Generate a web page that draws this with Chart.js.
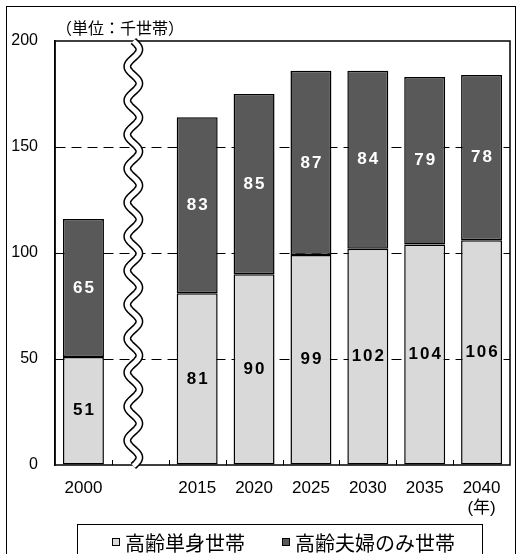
<!DOCTYPE html>
<html>
<head>
<meta charset="utf-8">
<script src="https://cdn.jsdelivr.net/npm/chart.js@4"></script>
<style>
  body { margin: 0; background: #fff; }
  #wrap { width: 517px; height: 554px; position: relative; }
</style>
</head>
<body>
<div id="wrap"><canvas id="householdChart"></canvas></div>
<script>
// 高齢世帯数の推移 (単位：千世帯)
const years = ['2000', '', '2015', '2020', '2025', '2030', '2035', ['2040', '(年)']];
const singleHouseholds = [51, null, 81, 90, 99, 102, 104, 106];
const coupleHouseholds = [65, null, 83, 85, 87, 84, 79, 78];
const yTicks = [0, 50, 100, 150, 200];
const seriesNames = ['高齢単身世帯', '高齢夫婦のみ世帯'];
const seriesColors = ['#d9d9d9', '#595959'];
const breakIndex = 1; // 波線を描くカテゴリ

const numFont = '"Liberation Sans", "Noto Sans CJK JP", sans-serif';
const jpFont = '"Noto Sans CJK JP", sans-serif';

// 棒の中の数値
const valueLabels = {
    id: 'valueLabels',
    afterDatasetsDraw(chart) {
        const ctx = chart.ctx;
        ctx.save();
        ctx.font = 'bold 17px ' + numFont;
        ctx.letterSpacing = '2px';
        ctx.textAlign = 'center';
        ctx.textBaseline = 'middle';
        chart.data.datasets.forEach((ds, i) => {
            const meta = chart.getDatasetMeta(i);
            ctx.fillStyle = i === 0 ? '#000' : '#fff';
            meta.data.forEach((bar, j) => {
                const v = ds.data[j];
                if (v == null) return;
                ctx.fillText(String(v), bar.x + 1, (bar.y + bar.base) / 2);
            });
        });
        ctx.restore();
    }
};

// 枠線・目盛り・波線・単位・凡例
const decorations = {
    id: 'decorations',
    afterDraw(chart) {
        const ctx = chart.ctx;
        const area = chart.chartArea;
        const x = chart.scales.x;
        const y = chart.scales.y;
        ctx.save();

        // 外枠
        ctx.strokeStyle = '#000';
        ctx.lineWidth = 1;
        ctx.strokeRect(6.5, 6.5, chart.width - 8, chart.height + 10);

        // プロット枠
        ctx.lineWidth = 1.5;
        ctx.strokeRect(area.left, area.top, area.right - area.left, area.bottom - area.top);

        // 内向きの目盛り
        ctx.lineWidth = 1;
        const step = x.getPixelForValue(1) - x.getPixelForValue(0);
        for (let i = 1; i < years.length; i++) {
            const px = Math.round(x.getPixelForValue(i) - step / 2) + 0.5;
            ctx.beginPath();
            ctx.moveTo(px, area.bottom);
            ctx.lineTo(px, area.bottom - 5);
            ctx.stroke();
        }
        yTicks.slice(1, -1).forEach(v => {
            const py = Math.round(y.getPixelForValue(v)) + 0.5;
            ctx.beginPath();
            ctx.moveTo(area.left, py);
            ctx.lineTo(area.left + 6, py);
            ctx.stroke();
        });

        // 波線 (省略記号)
        const cx = x.getPixelForValue(breakIndex) - 7;
        const amp = 6, period = 34;
        ctx.beginPath();
        for (let py = area.top; py <= area.bottom + 1; py += 1) {
            const px = cx + amp * Math.sin((py - area.top) / period * 2 * Math.PI);
            if (py === area.top) ctx.moveTo(px, py); else ctx.lineTo(px, py);
        }
        ctx.lineCap = 'butt';
        ctx.strokeStyle = '#000';
        ctx.lineWidth = 8;
        ctx.stroke();
        ctx.strokeStyle = '#fff';
        ctx.lineWidth = 5;
        ctx.stroke();

        // 単位
        ctx.fillStyle = '#000';
        ctx.font = '16px ' + jpFont;
        ctx.textAlign = 'left';
        ctx.textBaseline = 'middle';
        ctx.fillText('（単位：千世帯）', area.left + 1, area.top - 13);

        // 凡例
        ctx.strokeStyle = '#000';
        ctx.lineWidth = 1;
        ctx.strokeRect(77.5, 524.5, 405, 40);
        const items = [{ x: 112 }, { x: 282 }];
        ctx.font = '20px ' + jpFont;
        ctx.textBaseline = 'middle';
        items.forEach((it, i) => {
            ctx.fillStyle = seriesColors[i];
            ctx.fillRect(it.x + 0.5, 538.5, 7, 7);
            ctx.strokeStyle = '#000';
            ctx.strokeRect(it.x + 0.5, 538.5, 7, 7);
            ctx.fillStyle = '#000';
            ctx.fillText(seriesNames[i], it.x + 13, 543);
        });
        ctx.restore();
    }
};

const ctx = document.getElementById('householdChart').getContext('2d');
const householdChart = new Chart(ctx, {
    type: 'bar',
    data: {
        labels: years,
        datasets: [{
            label: seriesNames[0],
            data: singleHouseholds,
            backgroundColor: seriesColors[0],
            borderColor: '#000',
            borderWidth: 1.5,
            borderSkipped: false
        }, {
            label: seriesNames[1],
            data: coupleHouseholds,
            backgroundColor: seriesColors[1],
            borderColor: '#000',
            borderWidth: 1.5,
            borderSkipped: false
        }]
    },
    options: {
        responsive: true,
        maintainAspectRatio: false,
        animation: false,
        devicePixelRatio: 1,
        layout: {
            padding: { left: 11, right: 7, top: 41, bottom: 35 }
        },
        datasets: {
            bar: { barPercentage: 0.72, categoryPercentage: 1 }
        },
        scales: {
            x: {
                stacked: true,
                grid: { display: false, drawTicks: false },
                border: { display: false },
                afterFit(scale) { scale.height = 54; },
                ticks: {
                    color: '#000',
                    font: { size: 17, family: numFont, lineHeight: 1.2 },
                    padding: 13,
                    maxRotation: 0,
                    autoSkip: false
                }
            },
            y: {
                stacked: true,
                min: 0,
                max: 200,
                afterBuildTicks(scale) {
                    scale.ticks = yTicks.map(v => ({ value: v }));
                },
                afterFit(scale) { scale.width = 44; },
                grid: {
                    color: c => (c.tick && (c.tick.value === 0 || c.tick.value === 200)) ? 'rgba(0,0,0,0)' : '#000',
                    lineWidth: 1,
                    drawTicks: false
                },
                border: { display: true, color: '#000', width: 1.5, dash: [10, 6] },
                ticks: {
                    color: '#000',
                    font: { size: 16, family: numFont },
                    padding: 17
                }
            }
        },
        plugins: {
            legend: { display: false },
            tooltip: { enabled: false }
        }
    },
    plugins: [valueLabels, decorations]
});
</script>
</body>
</html>
